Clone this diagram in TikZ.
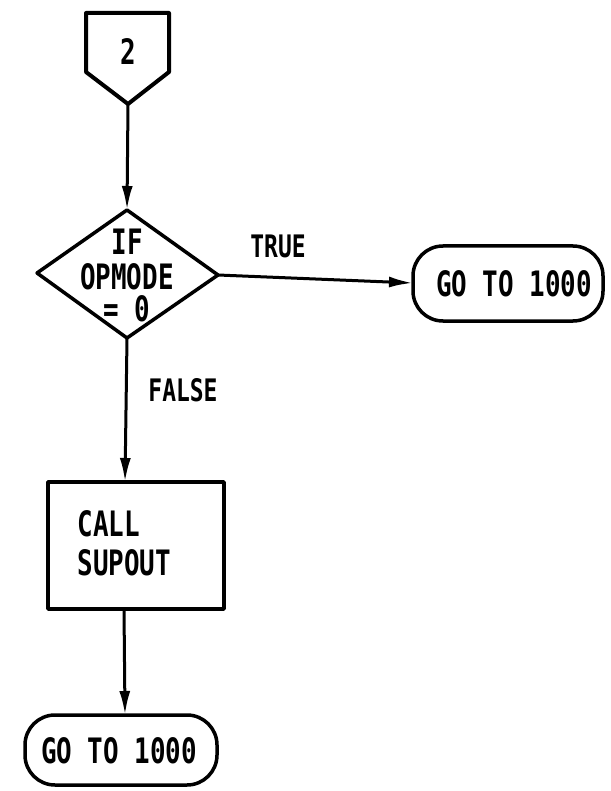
\documentclass[tikz,border=0pt]{standalone}
\usepackage{fontspec}
\newfontfamily\tw[FakeStretch=0.74]{DejaVu Sans Mono}
\usetikzlibrary{arrows.meta,shapes.geometric}
\begin{document}
\begin{tikzpicture}[x=1pt,y=-1pt,
  every node/.style={font=\tw\bfseries\fontsize{35}{39}\selectfont},
  ln/.style={line width=3.5pt,line join=round},
  arr/.style={line width=3pt,-{Latex[length=24pt,width=11pt]}},
  term/.style={draw,line width=3.5pt,rounded corners=30pt,inner sep=0pt},
  lbl/.style={font=\tw\bfseries\fontsize{31}{36}\selectfont}]
\useasboundingbox (0,0) rectangle (610,791);
% off-page connector
\draw[ln,line width=4pt] (86,13) -- (169,13) -- (169,72) -- (128,104) -- (86,72) -- cycle;
\node (c2) at (128,52) {2};
\coordinate (c2b) at (128,104);
% decision
\draw[ln] (127,210) -- (218,275) -- (127,338) -- (37,273) -- cycle;
\coordinate (dt) at (127,210);
\coordinate (dr) at (218,275);
\coordinate (db) at (127,338);
\node (if) at (127,242) {IF};
\node (op) at (127,277) {OPMODE};
\node (eq) at (127,309) {= 0};
% true terminal
\draw[term] (413,246) rectangle (603,321);
\node (t1) at (514,284) {GO TO 1000};
\coordinate (t1l) at (413,283);
\node[lbl] (true) at (278,246) {TRUE};
% process
\draw[ln] (48,482) rectangle (224,609);
\coordinate (pt) at (125,482);
\coordinate (pb) at (124,609);
\node[align=left,anchor=west] (call) at (74,543) {CALL\\SUPOUT};
\node[lbl] (false) at (183,390) {FALSE};
% bottom terminal
\draw[term] (25,715) rectangle (217,785);
\node (t2) at (119,751) {GO TO 1000};
\coordinate (t2t) at (125,715);
% connectors
\draw[arr] (c2b) -- (dt);
\draw[arr] (dr) -- (t1l);
\draw[arr] (db) -- (pt);
\draw[arr] (pb) -- (t2t);
\end{tikzpicture}
\end{document}
